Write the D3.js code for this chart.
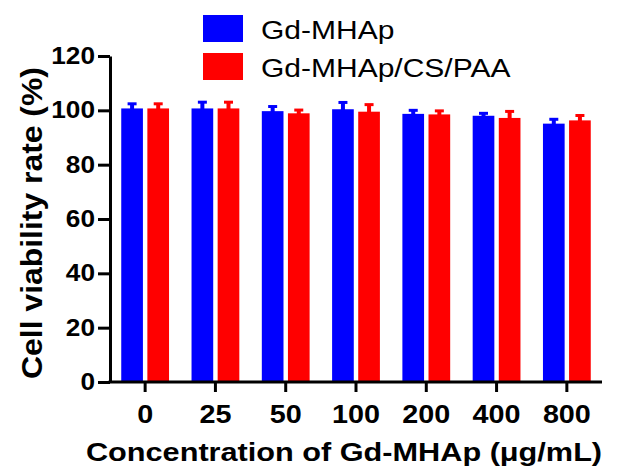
<!DOCTYPE html>
<html>
<head>
<meta charset="utf-8">
<script src="https://cdn.jsdelivr.net/npm/d3@7"></script>
<style>
  body { margin: 0; background: #fff; }
  svg { display: block; font-family: Arial, "Liberation Sans", sans-serif; }
  .axis path, .axis line { stroke: #000; stroke-width: 3; }
  .axis text { fill: #000; font-weight: bold; }
</style>
</head>
<body>
<svg id="chart"></svg>
<script>
// data
const concentrations = ['0', '25', '50', '100', '200', '400', '800'];
const seriesNames = ['Gd-MHAp', 'Gd-MHAp/CS/PAA'];
const seriesColors = ['#0000ff', '#ff0000'];
const gdMhapMean = [100.7, 100.7, 99.7, 100.4, 98.7, 98.0, 95.1];
const gdMhapErr = [1.7, 2.3, 1.7, 2.5, 1.3, 0.9, 1.6];
const coatedMean = [100.7, 100.7, 98.9, 99.5, 98.5, 97.2, 96.3];
const coatedErr = [1.7, 2.3, 1.2, 2.6, 1.3, 2.4, 1.8];
const yTicks = [0, 20, 40, 60, 80, 100, 120];

const width = 621, height = 475;
const margin = { top: 56, right: 19, bottom: 93, left: 110 };
const stretch = 1.2; // the source font runs wider than Arial

const svg = d3.select('#chart')
    .attr('width', width)
    .attr('height', height);

const rows = concentrations.map((c, i) => ({
    conc: c,
    values: [
        { name: seriesNames[0], mean: gdMhapMean[i], err: gdMhapErr[i] },
        { name: seriesNames[1], mean: coatedMean[i], err: coatedErr[i] }
    ]
}));

const x0 = d3.scaleBand()
    .domain(concentrations)
    .range([margin.left, width - margin.right])
    .paddingInner(0.32)
    .paddingOuter(0.16);

const x1 = d3.scaleBand()
    .domain(seriesNames)
    .range([0, x0.bandwidth()])
    .paddingInner(0.17);

const y = d3.scaleLinear()
    .domain([0, 120])
    .range([height - margin.bottom, margin.top]);

const color = d3.scaleOrdinal().domain(seriesNames).range(seriesColors);

// bars
const groups = svg.append('g')
    .selectAll('g')
    .data(rows)
    .join('g')
    .attr('transform', d => `translate(${x0(d.conc)},0)`);

groups.selectAll('rect')
    .data(d => d.values)
    .join('rect')
    .attr('x', d => x1(d.name))
    .attr('y', d => y(d.mean))
    .attr('width', x1.bandwidth())
    .attr('height', d => y(0) - y(d.mean))
    .attr('fill', d => color(d.name));

// error bars (upper half only)
groups.selectAll('.stem')
    .data(d => d.values)
    .join('line')
    .attr('class', 'stem')
    .attr('x1', d => x1(d.name) + x1.bandwidth() / 2)
    .attr('x2', d => x1(d.name) + x1.bandwidth() / 2)
    .attr('y1', d => y(d.mean) + 1)
    .attr('y2', d => y(d.mean + d.err))
    .attr('stroke', d => color(d.name))
    .attr('stroke-width', 4);

groups.selectAll('.cap')
    .data(d => d.values)
    .join('line')
    .attr('class', 'cap')
    .attr('x1', d => x1(d.name) + x1.bandwidth() / 2 - 4.5)
    .attr('x2', d => x1(d.name) + x1.bandwidth() / 2 + 4.5)
    .attr('y1', d => y(d.mean + d.err))
    .attr('y2', d => y(d.mean + d.err))
    .attr('stroke', d => color(d.name))
    .attr('stroke-width', 3);

// axes
const xAxis = svg.append('g')
    .attr('class', 'axis x-axis')
    .attr('transform', `translate(0,${y(0)})`)
    .call(d3.axisBottom(x0).tickSize(10).tickSizeOuter(0).tickPadding(13));

xAxis.select('.domain').attr('d', `M${margin.left - 1.5},0H${width - margin.right}`);
xAxis.selectAll('text')
    .style('font-size', '25px')
    .attr('transform', 'scale(1.15,1)');

const yAxis = svg.append('g')
    .attr('class', 'axis y-axis')
    .attr('transform', `translate(${margin.left},0)`)
    .call(d3.axisLeft(y).tickValues(yTicks).tickSize(12).tickSizeOuter(0));

yAxis.selectAll('text')
    .style('font-size', '23px')
    .attr('x', 0)
    .attr('transform', 'translate(-15,0) scale(1.14,1)');

// axis titles
svg.append('text')
    .attr('text-anchor', 'middle')
    .attr('transform', `translate(344,${height - 14}) scale(1.18,1)`)
    .style('font-size', '26px')
    .style('font-weight', 'bold')
    .text('Concentration of Gd-MHAp (μg/mL)');

svg.append('text')
    .attr('text-anchor', 'middle')
    .attr('transform', 'translate(42,223) rotate(-90) scale(1.1,1)')
    .style('font-size', '29px')
    .style('font-weight', 'bold')
    .text('Cell viability rate (%)');

// legend
const legend = svg.append('g')
    .selectAll('g')
    .data(seriesNames)
    .join('g')
    .attr('transform', (d, i) => `translate(203,${15 + i * 38})`);

legend.append('rect')
    .attr('width', 40)
    .attr('height', 27)
    .attr('fill', d => color(d));

legend.append('text')
    .attr('transform', `translate(58,24) scale(${stretch},1)`)
    .style('font-size', '25px')
    .text(d => d);
</script>
</body>
</html>
